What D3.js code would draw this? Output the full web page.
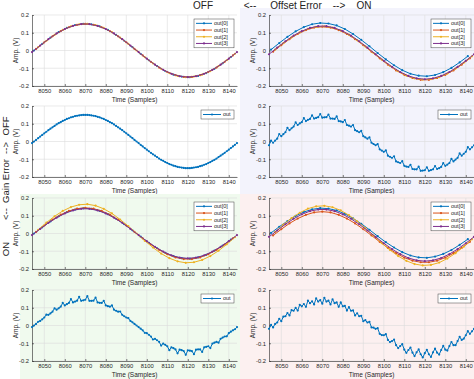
<!DOCTYPE html>
<html>
<head>
<meta charset="utf-8">
<script src="https://cdn.jsdelivr.net/npm/d3@7/dist/d3.min.js"></script>
<style>
  body { margin: 0; background: #fff; }
  svg { display: block; font-family: "Liberation Sans", Arial, sans-serif; }
</style>
</head>
<body>
<div id="chart"></div>
<script>
// sample range shown and interleaving (out[0] takes sample 8045, 8049, ...)
const firstSample = 8044, lastSample = 8144;
const channel0Sample = 8045;
const channelNames = ["out[0]", "out[1]", "out[2]", "out[3]"];
const xTicks = [8050, 8060, 8070, 8080, 8090, 8100, 8110, 8120, 8130, 8140];
const yTicks = [-0.2, -0.1, 0, 0.1, 0.2];
const yTickLabels = ["-0.2", "-0.1", "0", "0.1", "0.2"];

// combined ADC output, samples 8044..8144
const outNoError = [
  -0.009,
  0, 0.009, 0.019, 0.028, 0.037, 0.046, 0.055, 0.064, 0.072, 0.080, 0.088, 0.096, 0.103,
  0.109, 0.116, 0.121, 0.127, 0.131, 0.136, 0.139, 0.143, 0.145, 0.147, 0.149, 0.150, 0.150,
  0.150, 0.149, 0.147, 0.145, 0.143, 0.139, 0.136, 0.131, 0.127, 0.121, 0.116, 0.109,
  0.103, 0.096, 0.088, 0.080, 0.072, 0.064, 0.055, 0.046, 0.037, 0.028, 0.019, 0.009,
  0,
  -0.009, -0.019, -0.028, -0.037, -0.046, -0.055, -0.064, -0.072, -0.080, -0.088, -0.096, -0.103,
  -0.109, -0.116, -0.121, -0.127, -0.131, -0.136, -0.139, -0.143, -0.145, -0.147, -0.149, -0.150, -0.150,
  -0.150, -0.149, -0.147, -0.145, -0.143, -0.139, -0.136, -0.131, -0.127, -0.121, -0.116, -0.109,
  -0.103, -0.096, -0.088, -0.080, -0.072, -0.064, -0.055, -0.046, -0.037, -0.028, -0.019, -0.009
];
const outOffsetError = [
  -0.021,
  0.005, -0.007, 0.005, 0.016,   0.042, 0.030, 0.041, 0.052,   0.077, 0.064, 0.074, 0.084,
  0.108, 0.093, 0.102, 0.109,   0.132, 0.115, 0.122, 0.127,   0.148, 0.129, 0.133, 0.137,
  0.155, 0.134, 0.136, 0.137,   0.152, 0.129, 0.129, 0.127,   0.141, 0.115, 0.113, 0.109,
  0.121, 0.093, 0.089, 0.084,   0.093, 0.064, 0.058, 0.052,   0.060, 0.030, 0.023, 0.016,
  0.024, -0.007, -0.014, -0.021, -0.014, -0.044, -0.051, -0.058, -0.050, -0.080, -0.086, -0.092,
  -0.083, -0.112, -0.117, -0.121, -0.111, -0.137, -0.141, -0.143, -0.131, -0.155, -0.157, -0.157,
  -0.142, -0.165, -0.164, -0.162, -0.145, -0.165, -0.161, -0.157, -0.138, -0.155, -0.150, -0.143,
  -0.122, -0.137, -0.130, -0.121, -0.098, -0.112, -0.102, -0.092, -0.067, -0.080, -0.069, -0.058,
  -0.032, -0.044, -0.033, -0.021
];
const outGainError = [
  -0.009,
  0, 0.009, 0.021, 0.026,   0.035, 0.045, 0.061, 0.060,   0.068, 0.078, 0.097, 0.089,
  0.097, 0.106, 0.127, 0.113,   0.120, 0.127, 0.149, 0.130,   0.135, 0.140, 0.162, 0.139,
  0.142, 0.145, 0.165, 0.139,   0.139, 0.140, 0.157, 0.130,   0.128, 0.127, 0.139, 0.113,
  0.109, 0.106, 0.113, 0.089,   0.083, 0.078, 0.079, 0.060,   0.052, 0.045, 0.041, 0.026,
  0.018, 0.009, 0, -0.009,   -0.018, -0.027, -0.041, -0.043,   -0.052, -0.062, -0.079, -0.075,
  -0.083, -0.092, -0.113, -0.102,   -0.109, -0.117, -0.139, -0.123,   -0.128, -0.135, -0.157, -0.136,
  -0.139, -0.144, -0.165, -0.140,   -0.142, -0.144, -0.162, -0.136,   -0.135, -0.135, -0.149, -0.123,
  -0.120, -0.117, -0.127, -0.102,   -0.097, -0.092, -0.097, -0.075,   -0.068, -0.062, -0.061, -0.043,
  -0.035, -0.027, -0.021, -0.009
];
const outBothErrors = [
  -0.019,
  0.003, -0.011, 0.009, 0.017,   0.038, 0.024, 0.050, 0.052,   0.070, 0.057, 0.087, 0.083,
  0.099, 0.084, 0.117, 0.108,   0.121, 0.105, 0.140, 0.126,   0.136, 0.119, 0.153, 0.135,
  0.143, 0.123, 0.156, 0.135,   0.140, 0.119, 0.148, 0.126,   0.130, 0.105, 0.130, 0.108,
  0.111, 0.084, 0.103, 0.083,   0.085, 0.057, 0.069, 0.052,   0.055, 0.024, 0.030, 0.017,
  0.021, -0.011, -0.012, -0.019,   -0.015, -0.047, -0.054, -0.055,   -0.049, -0.081, -0.093, -0.088,
  -0.079, -0.111, -0.127, -0.116,   -0.105, -0.136, -0.154, -0.138,   -0.124, -0.153, -0.172, -0.151,
  -0.135, -0.162, -0.180, -0.156,   -0.137, -0.162, -0.177, -0.151,   -0.130, -0.153, -0.164, -0.138,
  -0.115, -0.136, -0.141, -0.116,   -0.093, -0.111, -0.111, -0.088,   -0.064, -0.081, -0.074, -0.055,
  -0.032, -0.047, -0.033, -0.019
];

const width = 474, height = 379;
const plotW = 205, plotH = 71;
const colors = ["#0072bd", "#d95319", "#edb120", "#7e2f8e"];
const axisColor = "#262626", gridColor = "#dcdcdc";

const svg = d3.select("#chart").append("svg")
    .attr("width", width)
    .attr("height", height);

svg.append("rect").attr("width", width).attr("height", height).attr("fill", "#fff");

const quadrants = [
  {values: outNoError,     left: 32,  tops: [15, 106],  bg: null},
  {values: outOffsetError, left: 269, tops: [15, 106],  bg: {x: 240, y: 8,   w: 234, h: 186, fill: "#f3f3fc"}},
  {values: outGainError,   left: 32,  tops: [198, 290], bg: {x: 20,  y: 194, w: 220, h: 185, fill: "#f0faee"}},
  {values: outBothErrors,  left: 269, tops: [198, 290], bg: {x: 240, y: 194, w: 234, h: 185, fill: "#fcf0f0"}}
];

const samples = d3.range(firstSample, lastSample + 1);

function channelOf(n) {
  return (((n - channel0Sample) % 4) + 4) % 4;
}

function drawPanel(left, top, series) {
  let x = d3.scaleLinear().domain([firstSample, lastSample]).range([left, left + plotW]);
  let y = d3.scaleLinear().domain([-0.2, 0.2]).range([top + plotH, top]);
  let g = svg.append("g");

  g.selectAll(".gx").data(xTicks).enter().append("line")
      .attr("x1", d => x(d)).attr("x2", d => x(d))
      .attr("y1", top).attr("y2", top + plotH)
      .attr("stroke", gridColor).attr("stroke-width", 0.6);
  g.selectAll(".gy").data(yTicks).enter().append("line")
      .attr("x1", left).attr("x2", left + plotW)
      .attr("y1", d => y(d)).attr("y2", d => y(d))
      .attr("stroke", gridColor).attr("stroke-width", 0.6);

  let xAxis = g.append("g")
      .attr("transform", "translate(0," + (top + plotH) + ")")
      .call(d3.axisBottom(x).tickValues(xTicks).tickFormat(d3.format("d")).tickSize(-2).tickSizeOuter(0).tickPadding(3));
  let yAxis = g.append("g")
      .attr("transform", "translate(" + left + ",0)")
      .call(d3.axisLeft(y).tickValues(yTicks).tickFormat((d, i) => yTickLabels[i]).tickSize(-2).tickSizeOuter(0).tickPadding(3));
  [xAxis, yAxis].forEach(a => {
    a.selectAll("path, line").attr("stroke", axisColor).attr("stroke-width", 0.6);
    a.selectAll("text").attr("fill", axisColor).style("font-size", "5.8px");
  });

  g.append("text")
      .attr("x", left + plotW / 2).attr("y", top + plotH + 15.5)
      .attr("text-anchor", "middle").attr("fill", axisColor)
      .style("font-size", "6.5px")
      .text("Time (Samples)");
  g.append("text")
      .attr("transform", "translate(" + (left - 14) + "," + (top + plotH / 2) + ") rotate(-90)")
      .attr("text-anchor", "middle").attr("fill", axisColor)
      .style("font-size", "6.5px")
      .text("Amp. (V)");

  let line = d3.line().x(d => x(d.n)).y(d => y(d.v));
  series.forEach(s => {
    g.append("path")
        .datum(s.points)
        .attr("d", line)
        .attr("fill", "none")
        .attr("stroke", s.color)
        .attr("stroke-width", 1);
    g.selectAll(null).data(s.points).enter().append("circle")
        .attr("cx", d => x(d.n)).attr("cy", d => y(d.v))
        .attr("r", 1.1)
        .attr("fill", s.color);
  });

  // legend
  let rowH = 6.7;
  let lw = series.length > 1 ? 40 : 33;
  let lh = series.length > 1 ? series.length * rowH + 2 : 9;
  let lg = g.append("g")
      .attr("transform", "translate(" + (left + plotW - 3 - lw) + "," + (top + 4) + ")");
  lg.append("rect")
      .attr("width", lw).attr("height", lh)
      .attr("fill", "#fff").attr("stroke", "#404040").attr("stroke-width", 0.5);
  let lineEnd = series.length > 1 ? 18 : 20;
  series.forEach((s, i) => {
    let cy = series.length > 1 ? 1 + rowH * (i + 0.5) : lh / 2;
    lg.append("line")
        .attr("x1", 2).attr("x2", lineEnd).attr("y1", cy).attr("y2", cy)
        .attr("stroke", s.color).attr("stroke-width", 1);
    lg.append("circle").attr("cx", lineEnd / 2 + 1).attr("cy", cy).attr("r", 1.1).attr("fill", s.color);
    lg.append("text")
        .attr("x", lineEnd + 2).attr("y", cy).attr("dy", "0.35em")
        .attr("fill", axisColor)
        .style("font-size", "5.5px")
        .text(s.name);
  });
}

quadrants.forEach(q => {
  if (q.bg) {
    svg.append("rect")
        .attr("x", q.bg.x).attr("y", q.bg.y)
        .attr("width", q.bg.w).attr("height", q.bg.h)
        .attr("fill", q.bg.fill);
  }
  let all = samples.map((n, i) => ({n: n, v: q.values[i]}));
  let channels = channelNames.map((name, c) => ({
    name: name,
    color: colors[c],
    points: all.filter(d => channelOf(d.n) === c)
  }));
  drawPanel(q.left, q.tops[0], channels);
  drawPanel(q.left, q.tops[1], [{name: "out", color: colors[0], points: all}]);
});

// header and side labels
const topLabels = [["OFF", 203], ["<--", 250], ["Offset Error", 296], ["-->", 339], ["ON", 364]];
svg.selectAll(".toplab").data(topLabels).enter().append("text")
    .attr("x", d => d[1]).attr("y", 9)
    .attr("text-anchor", "middle")
    .attr("fill", "#222")
    .style("font-size", "10px")
    .text(d => d[0]);

const sideLabels = [["OFF", 126], ["-->", 148], ["Gain Error", 181], ["<--", 214], ["ON", 249]];
svg.selectAll(".sidelab").data(sideLabels).enter().append("text")
    .attr("transform", d => "translate(9," + d[1] + ") rotate(-90)")
    .attr("text-anchor", "middle")
    .attr("fill", "#222")
    .style("font-size", "9.5px")
    .text(d => d[0]);
</script>
</body>
</html>
